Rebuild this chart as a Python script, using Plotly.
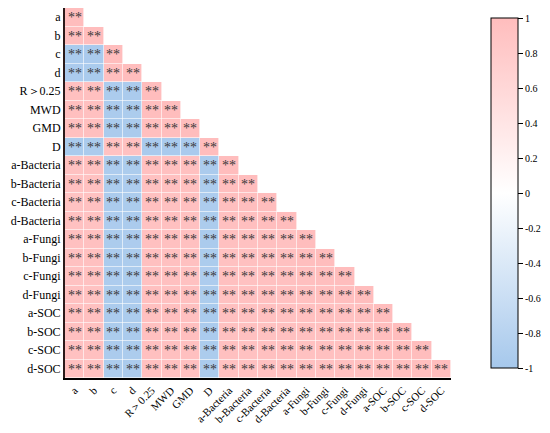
import plotly.graph_objects as go

labels = ['a', 'b', 'c', 'd', 'R＞0.25', 'MWD', 'GMD', 'D',
          'a-Bacteria', 'b-Bacteria', 'c-Bacteria', 'd-Bacteria',
          'a-Fungi', 'b-Fungi', 'c-Fungi', 'd-Fungi',
          'a-SOC', 'b-SOC', 'c-SOC', 'd-SOC']

# lower triangle of the correlation matrix, row by row
r_a = [1]
r_b = [0.98, 1]
r_c = [-0.95, -0.96, 1]
r_d = [-0.94, -0.95, 0.97, 1]
r_R = [0.96, 0.95, -0.93, -0.94, 1]
r_MWD = [0.97, 0.96, -0.94, -0.93, 0.98, 1]
r_GMD = [0.96, 0.97, -0.95, -0.94, 0.97, 0.99, 1]
r_D = [-0.95, -0.94, 0.93, 0.94, -0.96, -0.97, -0.96, 1]
r_aB = [0.94, 0.95, -0.92, -0.93, 0.95, 0.96, 0.95, -0.94, 1]
r_bB = [0.95, 0.94, -0.93, -0.92, 0.94, 0.95, 0.96, -0.93, 0.98, 1]
r_cB = [0.93, 0.94, -0.94, -0.93, 0.95, 0.94, 0.95, -0.92, 0.97, 0.98, 1]
r_dB = [0.94, 0.93, -0.92, -0.94, 0.93, 0.95, 0.94, -0.93, 0.96, 0.97, 0.98, 1]
r_aF = [0.95, 0.96, -0.93, -0.92, 0.96, 0.95, 0.96, -0.94, 0.95, 0.94, 0.95, 0.94, 1]
r_bF = [0.94, 0.95, -0.94, -0.93, 0.95, 0.96, 0.95, -0.93, 0.94, 0.95, 0.94, 0.95, 0.98, 1]
r_cF = [0.93, 0.94, -0.92, -0.93, 0.94, 0.95, 0.94, -0.92, 0.95, 0.94, 0.96, 0.95, 0.97, 0.98, 1]
r_dF = [0.94, 0.93, -0.93, -0.92, 0.95, 0.94, 0.95, -0.93, 0.94, 0.95, 0.95, 0.96, 0.96, 0.97, 0.98, 1]
r_aS = [0.96, 0.95, -0.94, -0.93, 0.96, 0.97, 0.96, -0.95, 0.95, 0.94, 0.95, 0.94, 0.96, 0.95, 0.94, 0.95, 1]
r_bS = [0.95, 0.96, -0.93, -0.94, 0.95, 0.96, 0.97, -0.94, 0.94, 0.95, 0.94, 0.95, 0.95, 0.96, 0.95, 0.94, 0.98, 1]
r_cS = [0.94, 0.95, -0.94, -0.93, 0.96, 0.95, 0.96, -0.93, 0.95, 0.94, 0.96, 0.95, 0.94, 0.95, 0.96, 0.95, 0.97, 0.98, 1]
r_dS = [0.95, 0.94, -0.93, -0.94, 0.95, 0.96, 0.95, -0.94, 0.94, 0.95, 0.95, 0.96, 0.95, 0.94, 0.95, 0.96, 0.96, 0.97, 0.98, 1]

rows = [r_a, r_b, r_c, r_d, r_R, r_MWD, r_GMD, r_D, r_aB, r_bB, r_cB, r_dB,
        r_aF, r_bF, r_cF, r_dF, r_aS, r_bS, r_cS, r_dS]

SERIF = 'Times New Roman, Liberation Serif, serif'

n = len(labels)
z = [row + [None] * (n - len(row)) for row in rows]
stars = [['**'] * len(row) + [''] * (n - len(row)) for row in rows]

fig = go.Figure(go.Heatmap(
    z=z, x=labels, y=labels,
    text=stars, texttemplate='%{text}',
    textfont=dict(family=SERIF, size=14, color='#3a3a3a'),
    zmin=-1, zmax=1,
    colorscale=[[0, '#a6c8ec'], [0.5, '#ffffff'], [1, '#ffbdbd']],
    xgap=0.6, ygap=0.6,
    hoverongaps=False,
    colorbar=dict(
        x=1.078, xanchor='left', y=0.5, len=1.0, lenmode='fraction',
        thickness=27, outlinecolor='black', outlinewidth=1,
        tickmode='array', tickvals=[1, 0.8, 0.6, 0.4, 0.2, 0, -0.2, -0.4, -0.6, -0.8, -1],
        ticktext=['1', '0.8', '0.6', '0.4', '0.2', '0', '-0.2', '-0.4', '-0.6', '-0.8', '-1'],
        ticks='outside', ticklen=5, tickcolor='black',
        tickfont=dict(family=SERIF, size=10, color='black'),
    ),
))

# page body has an 8px margin, so the figure is a bit smaller than the window
fig.update_layout(
    width=542, height=425,
    margin=dict(l=57, r=99, t=0, b=55, autoexpand=False),
    plot_bgcolor='white', paper_bgcolor='white',
    font=dict(family=SERIF, color='black'),
)
fig.update_xaxes(
    tickangle=-45, tickfont=dict(family=SERIF, size=11), showgrid=False, zeroline=False,
    showline=True, linecolor='black', linewidth=1.5, ticks='', automargin=False,
)
fig.update_yaxes(
    autorange='reversed', tickfont=dict(family=SERIF, size=12), showgrid=False, zeroline=False,
    showline=True, linecolor='#2a1a1a', linewidth=2, ticks='', automargin=False,
)

fig.write_html('out.html')
